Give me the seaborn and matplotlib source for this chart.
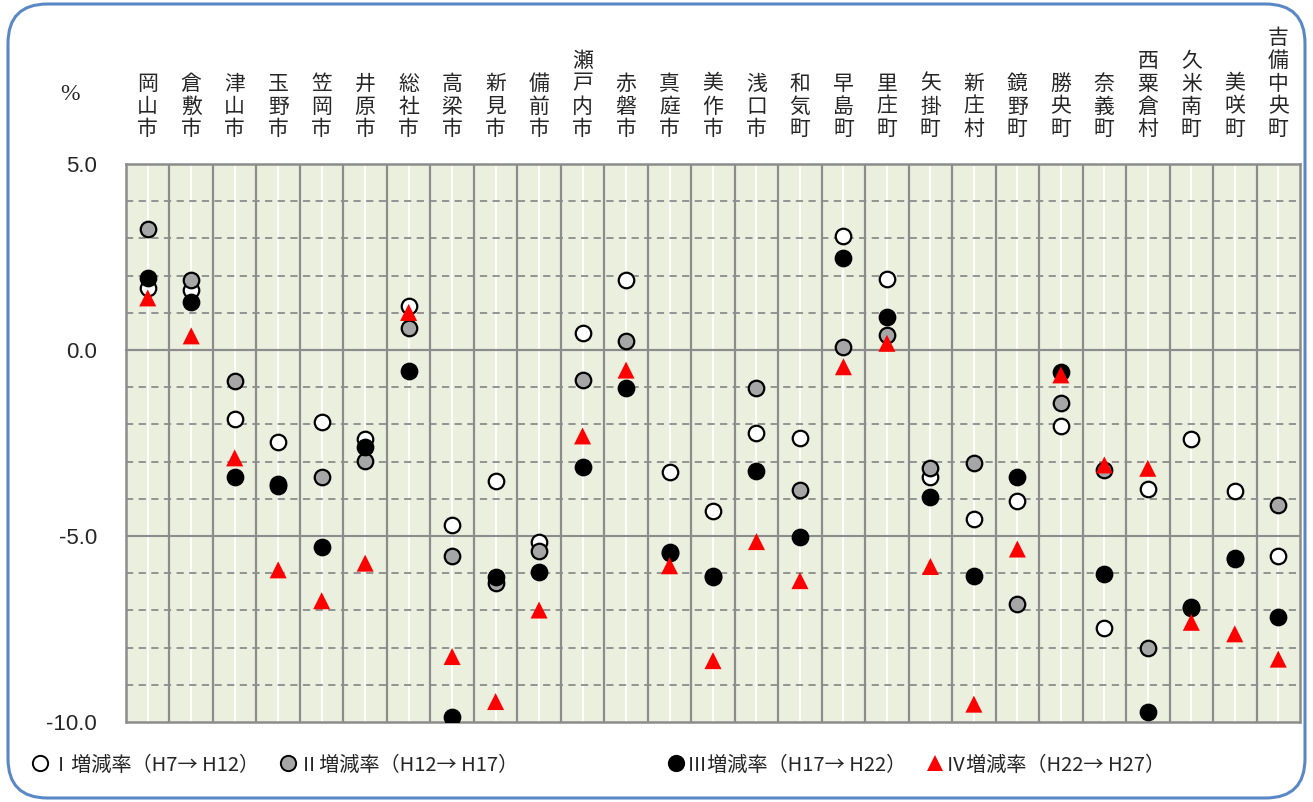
""" Population change rates by municipality (Okayama) """

import matplotlib.pyplot as plt
import numpy as np
import pandas as pd
import seaborn as sns
from matplotlib.lines import Line2D
from matplotlib.patches import FancyBboxPatch

CITIES = ['岡山市', '倉敷市', '津山市', '玉野市', '笠岡市', '井原市', '総社市',
          '高梁市', '新見市', '備前市', '瀬戸内市', '赤磐市', '真庭市', '美作市',
          '浅口市', '和気町', '早島町', '里庄町', '矢掛町', '新庄村', '鏡野町',
          '勝央町', '奈義町', '西粟倉村', '久米南町', '美咲町', '吉備中央町']

RATE_1 = [1.66, 1.61, -1.86, -2.46, -1.94, -2.40, 1.18, -4.70, -3.51, -5.17,
          0.47, 1.88, -3.27, -4.32, -2.24, -2.37, 3.06, 1.90, -3.41, -4.53,
          -4.05, -2.04, -7.46, -3.74, -2.40, -3.78, -5.53]
RATE_2 = [3.24, 1.88, -0.82, -3.60, -3.42, -2.98, 0.58, -5.54, -6.27, -5.39,
          -0.81, 0.25, -5.45, -6.10, -1.03, -3.76, 0.07, 0.40, -3.18, -3.03,
          -6.83, -1.43, -3.23, -8.02, -6.90, -5.60, -4.17]
RATE_3 = [1.94, 1.30, -3.41, -3.65, -5.30, -2.60, -0.57, -9.87, -6.09, -5.96,
          -3.14, -1.02, -5.42, -6.08, -3.25, -5.04, 2.48, 0.88, -3.94, -6.08,
          -3.41, -0.58, -6.02, -9.74, -6.93, -5.62, -7.17]
RATE_4 = [1.40, 0.38, -2.90, -5.91, -6.74, -5.73, 1.01, -8.24, -9.45, -6.99,
          -2.31, -0.54, -5.80, -8.35, -5.15, -6.20, -0.45, 0.18, -5.82, -9.52,
          -5.35, -0.67, -3.09, -3.18, -7.32, -7.63, -8.31]

LABELS = ['Ⅰ増減率（H7→ H12）', 'Ⅱ増減率（H12→ H17）',
          'Ⅲ増減率（H17→ H22）', 'Ⅳ増減率（H22→ H27）']
Y_TICKS = [5, 0, -5, -10]
Y_TICK_LABELS = ['5.0', '0.0', '-5.0', '-10.0']

JP = ['Noto Sans CJK JP', 'DejaVu Sans']
GRID = '#8c8c8c'

# marker styles: face colour, edge colour, marker
STYLES = [('white', 'black', 'o'), ('#a6a6a6', 'black', 'o'),
          ('black', 'black', 'o'), ('#ff0000', 'none', '^')]

sns.set_style('white')
plt.rcParams['font.family'] = JP

df = pd.DataFrame({'pos': np.arange(len(CITIES)), 'city': CITIES,
                   'r1': RATE_1, 'r2': RATE_2, 'r3': RATE_3, 'r4': RATE_4})

fig = plt.figure(figsize=(13.13, 8.02), dpi=100)
ax = fig.add_axes([126 / 1313, 1 - 722 / 802, 1174 / 1313, 558 / 802])
ax.set_facecolor('#ebefde')

n = len(CITIES)
ax.set_xlim(-0.5, n - 0.5)
ax.set_ylim(-10, 5)

# grid: white centre lines, gray column separators, dashed horizontals
for i in range(n):
    ax.axvline(i, color='white', lw=1.3, zorder=0)
for i in range(n - 1):
    ax.axvline(i + 0.5, color=GRID, lw=1.6, zorder=0.5)
for v in range(-9, 5):
    if v in (0, -5):
        ax.axhline(v, color=GRID, lw=1.5, zorder=0.5)
    else:
        ax.axhline(v, color=GRID, lw=1.3, ls=(0, (4, 3)), zorder=0.5)
ax.axhline(-10, color=GRID, lw=1.8, zorder=0.6, clip_on=False)

for col, (face, edge, mk) in zip(['r1', 'r2', 'r3', 'r4'], STYLES):
    if mk == 'o':
        sns.scatterplot(data=df, x='pos', y=col, ax=ax, marker='o', s=125,
                        color=face, edgecolor=edge, linewidth=1.6, zorder=3)
    else:
        sns.scatterplot(data=df, x='pos', y=col, ax=ax, marker='^', s=150,
                        color=face, edgecolor='none', linewidth=0, zorder=4)

for side in ['top', 'left', 'right', 'bottom']:
    ax.spines[side].set_color(GRID)
    ax.spines[side].set_linewidth(1.8)
ax.spines['bottom'].set_position(('data', 0))
ax.spines['bottom'].set_linewidth(1.5)
ax.set_xticks(df['pos'])
ax.tick_params(axis='x', direction='inout', length=8, width=1, color=GRID,
               labelbottom=False)
ax.set_yticks(Y_TICKS)
ax.set_yticklabels(Y_TICK_LABELS, family='Liberation Sans', fontsize=16)
ax.tick_params(axis='y', length=0, pad=21)
ax.set_xlabel('')
ax.set_ylabel('')

top = ax.secondary_xaxis('top')
top.set_xticks(df['pos'])
top.set_xticklabels(['\n'.join(c) for c in CITIES], fontsize=15,
                    linespacing=1.05)
top.tick_params(length=0, pad=17)
top.spines['top'].set_visible(False)

fig.text(70 / 1313, 1 - 95 / 802, '%', ha='center', va='center',
         fontsize=17, family='Liberation Serif')

handles = []
for (face, edge, mk), lab in zip(STYLES, LABELS):
    handles.append(Line2D([], [], ls='none', marker=mk, markersize=11,
                          markerfacecolor=face, markeredgecolor=edge,
                          markeredgewidth=1.4 if edge != 'none' else 0,
                          label=lab))
leg_kw = dict(ncol=2, frameon=False, fontsize=14.5, handlelength=0.6,
              handletextpad=0.25, columnspacing=1.1, borderpad=0,
              loc='center left')
fig.legend(handles=handles[:2], bbox_to_anchor=(24 / 1313, 1 - 765 / 802),
           **leg_kw)
fig.legend(handles=handles[2:], bbox_to_anchor=(660 / 1313, 1 - 765 / 802),
           **leg_kw)

# rounded outer border
border = FancyBboxPatch((8 / 1313, 4 / 802), 1297 / 1313, 794 / 802,
                        boxstyle='round,pad=0,rounding_size=0.03',
                        transform=fig.transFigure, facecolor='none',
                        edgecolor='#5a88c6', lw=2.2, mutation_aspect=1313 / 802)
fig.patches.append(border)

fig.savefig('out.png', dpi=100)
